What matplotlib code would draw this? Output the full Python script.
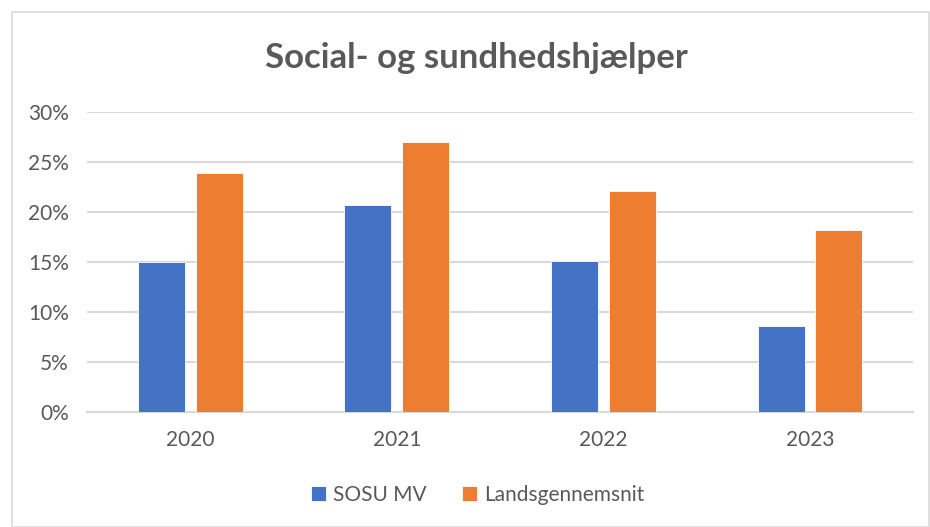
import numpy as np
import matplotlib.pyplot as plt
from matplotlib.patches import Rectangle

plt.rcParams['font.family'] = ['Lato', 'DejaVu Sans']

# Data
years = ['2020', '2021', '2022', '2023']
sosu_mv = [15.0, 20.7, 15.1, 8.6]
landsgennemsnit = [23.9, 27.0, 22.1, 18.2]
yticks = [0, 5, 10, 15, 20, 25, 30]

blue = '#4472C4'
orange = '#ED7D31'
text_col = '#595959'
grid_col = '#D9D9D9'

fig = plt.figure(figsize=(9.3, 5.27), dpi=100)
ax = fig.add_axes([0.0935, 0.218, 0.8885, 0.5695])

# light chart border like the Excel chart area
fig.patches.append(Rectangle((12 / 930, 0.0), 1 - 13 / 930, 1 - 12 / 527,
                             transform=fig.transFigure, fill=False,
                             edgecolor='#D9D9D9', linewidth=1.2))

x = np.arange(len(years))
w = 0.228
ax.bar(x - 0.14, sosu_mv, width=w, color=blue, edgecolor='white', linewidth=0.6,
       label='SOSU MV', zorder=3)
ax.bar(x + 0.14, landsgennemsnit, width=w, color=orange, edgecolor='white', linewidth=0.6,
       label='Landsgennemsnit', zorder=3)

ax.set_xlim(-0.5, len(years) - 0.5)
ax.set_ylim(0, 30)
ax.set_yticks(yticks)
ax.set_yticklabels([f'{v}%' for v in yticks])
ax.set_xticks(x)
ax.set_xticklabels(years)

ax.grid(axis='y', color=grid_col, linewidth=1.5, zorder=0)
ax.set_axisbelow(True)
for s in ['top', 'right', 'left']:
    ax.spines[s].set_visible(False)
ax.spines['bottom'].set_color(grid_col)
ax.spines['bottom'].set_linewidth(1.5)
ax.tick_params(axis='both', length=0, labelsize=15, labelcolor=text_col)
ax.tick_params(axis='y', pad=13)
ax.tick_params(axis='x', pad=13)

fig.text(0.512, 0.89, 'Social- og sundhedshjælper', ha='center', va='center',
         fontsize=25, fontweight='bold', color=text_col)

fig.legend(loc='center', bbox_to_anchor=(0.514, 0.061), ncol=2, frameon=False,
           handlelength=0.7, handleheight=0.7, handletextpad=0.35,
           columnspacing=1.7, prop={'size': 15}, labelcolor=text_col)

fig.savefig('out.png', dpi=100)
